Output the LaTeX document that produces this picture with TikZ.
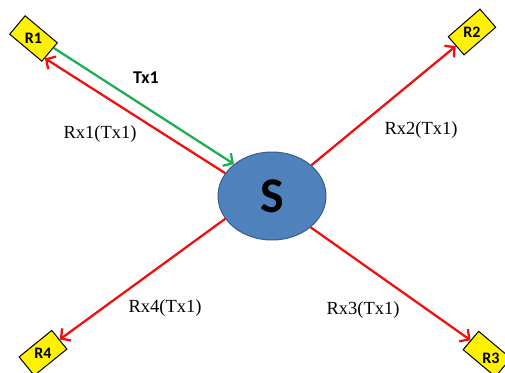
\documentclass[tikz,border=0pt]{standalone}
\usepackage{fontspec}
\setmainfont{Liberation Serif}
\newfontfamily\calibri{Carlito}
\usepackage{xcolor}
\usetikzlibrary{arrows.meta,shapes.geometric}

\definecolor{srcblue}{RGB}{79,129,189}
\definecolor{srcedge}{RGB}{56,93,138}
\definecolor{txgreen}{RGB}{30,176,80}
\definecolor{rxred}{RGB}{240,16,16}

\tikzset{
  relay/.style={draw=black, line width=1pt, fill=yellow, minimum width=42pt, minimum height=24pt, inner sep=0pt},
  relaytext/.style={font=\calibri\bfseries\fontsize{16}{16}\selectfont},
  rxlink/.style={draw=rxred, line width=2.3pt, -{Straight Barb[length=7pt,width=15pt]}},
  txlink/.style={draw=txgreen, line width=2.3pt, -{Straight Barb[length=7pt,width=15pt]}},
  linklabel/.style={font=\fontsize{18.5}{20}\selectfont}
}

\begin{document}
\begin{tikzpicture}[x=1pt, y=-1pt]
    \useasboundingbox (0,0) rectangle (505,372);
    \clip (0,0) rectangle (505,372);

    % Source
    \node[ellipse, draw=srcedge, line width=1pt, fill=srcblue, minimum width=108pt, minimum height=88pt, inner sep=0pt,
          font=\calibri\bfseries\fontsize{50}{50}\selectfont] (S) at (272,196) {S};

    % Relays
    \node[relay, rotate=-40] (R1) at (33.5,38.5) {};
    \node[relaytext] at (R1) {R1};
    \node[relay, rotate=41] (R2) at (472,32) {};
    \node[relaytext] at (R2) {R2};
    \node[relay, rotate=-40] (R3) at (487,354) {};
    \node[relaytext] at ([xshift=4pt,yshift=-4pt]R3.center) {R3};
    \node[relay, rotate=39] (R4) at (43,353) {};
    \node[relaytext] at (R4) {R4};

    % Links
    \draw[txlink] (R1.15) -- (S.140);
    \draw[rxlink] (S.154) -- (R1.-20);
    \draw[rxlink] (S.38) -- (R2.west);
    \draw[rxlink] (S.-39) -- (R3.west);
    \draw[rxlink] (S.206) -- (R4.east);

    % Link labels
    \node[font=\calibri\bfseries\fontsize{18}{18}\selectfont] (tx1) at (146,78) {Tx1};
    \node[linklabel] (rx1) at (100,134) {Rx1(Tx1)};
    \node[linklabel] (rx2) at (421,130) {Rx2(Tx1)};
    \node[linklabel] (rx3) at (363,310) {Rx3(Tx1)};
    \node[linklabel] (rx4) at (165,308) {Rx4(Tx1)};

\end{tikzpicture}
\end{document}
